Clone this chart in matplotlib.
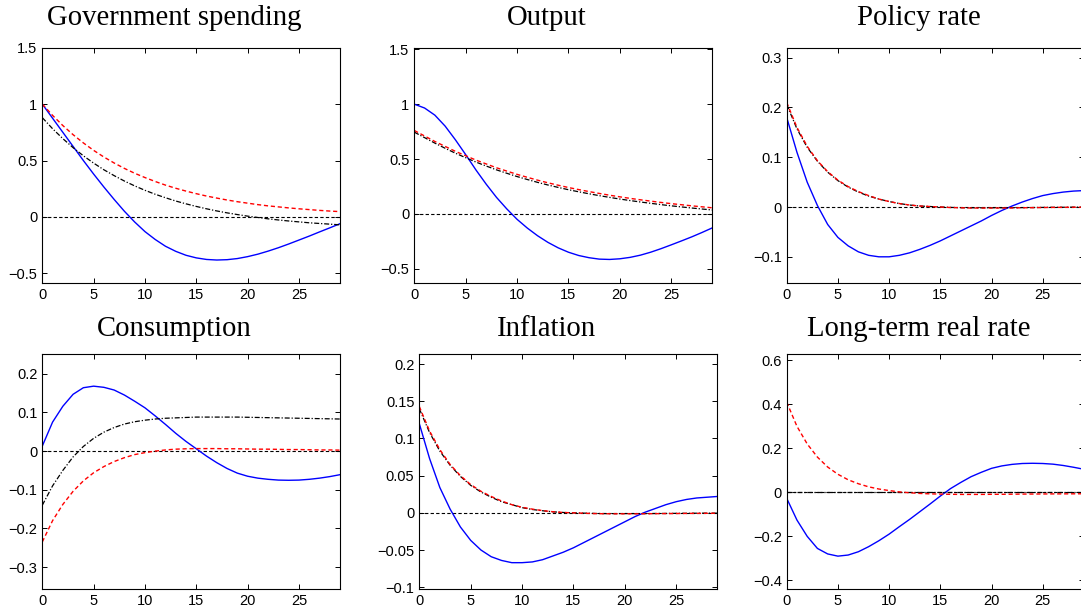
import matplotlib
matplotlib.use("Agg")
import matplotlib.pyplot as plt
from matplotlib.ticker import FuncFormatter
import numpy as np

periods = np.arange(30)

# Government spending
gov_blue = [1.0, 0.875, 0.75, 0.625, 0.50, 0.38, 0.265, 0.155, 0.05, -0.045,
            -0.13, -0.2, -0.26, -0.305, -0.34, -0.363, -0.377, -0.382, -0.379, -0.369,
            -0.352, -0.33, -0.303, -0.273, -0.24, -0.205, -0.17, -0.133, -0.097, -0.06]
gov_red = [1.0, 0.9, 0.81, 0.729, 0.656, 0.59, 0.531, 0.478, 0.43, 0.387,
           0.349, 0.314, 0.282, 0.254, 0.229, 0.206, 0.185, 0.167, 0.15, 0.135,
           0.122, 0.109, 0.098, 0.089, 0.08, 0.072, 0.065, 0.058, 0.052, 0.047]
gov_black = [0.88, 0.782, 0.694, 0.614, 0.542, 0.477, 0.418, 0.366, 0.318, 0.275,
             0.236, 0.201, 0.17, 0.141, 0.116, 0.093, 0.072, 0.053, 0.036, 0.021,
             0.007, -0.005, -0.017, -0.027, -0.036, -0.044, -0.052, -0.058, -0.064, -0.07]

# Output
out_blue = [1.0, 0.965, 0.9, 0.8, 0.675, 0.54, 0.4, 0.27, 0.15, 0.045,
            -0.05, -0.13, -0.2, -0.26, -0.31, -0.35, -0.38, -0.4, -0.413, -0.416,
            -0.41, -0.397, -0.377, -0.35, -0.318, -0.283, -0.247, -0.21, -0.17, -0.128]
out_red = [0.76, 0.71, 0.66, 0.615, 0.57, 0.53, 0.49, 0.455, 0.42, 0.39,
           0.36, 0.333, 0.307, 0.283, 0.261, 0.24, 0.221, 0.203, 0.186, 0.17,
           0.155, 0.141, 0.128, 0.116, 0.104, 0.093, 0.083, 0.073, 0.064, 0.055]
out_black = [0.745, 0.695, 0.645, 0.598, 0.553, 0.512, 0.472, 0.436, 0.401, 0.37,
             0.34, 0.313, 0.287, 0.263, 0.241, 0.22, 0.201, 0.183, 0.166, 0.15,
             0.135, 0.121, 0.108, 0.096, 0.084, 0.073, 0.063, 0.053, 0.044, 0.035]

# Policy rate
pol_blue = [0.18, 0.11, 0.05, 0.003, -0.035, -0.061, -0.078, -0.09, -0.097, -0.1,
            -0.1, -0.097, -0.092, -0.085, -0.077, -0.068, -0.058, -0.048, -0.038, -0.028,
            -0.017, -0.007, 0.002, 0.01, 0.017, 0.023, 0.027, 0.03, 0.032, 0.033]
pol_red = [0.21, 0.16, 0.122, 0.093, 0.071, 0.054, 0.041, 0.031, 0.023, 0.016,
           0.011, 0.007, 0.004, 0.002, 0.001, 0.0, -0.001, -0.0015, -0.002, -0.002,
           -0.002, -0.002, -0.0018, -0.0015, -0.0013, -0.001, -0.0008, -0.0006, -0.0004, -0.0003]
pol_black = [0.206, 0.157, 0.12, 0.092, 0.07, 0.053, 0.04, 0.03, 0.022, 0.016,
             0.011, 0.007, 0.004, 0.002, 0.001, 0.0, -0.0008, -0.0012, -0.0015, -0.0015,
             -0.0015, -0.0015, -0.0013, -0.0012, -0.001, -0.0008, -0.0006, -0.0005, -0.0003, -0.0002]

# Consumption
con_blue = [0.013, 0.075, 0.116, 0.147, 0.164, 0.168, 0.165, 0.158, 0.145, 0.129,
            0.112, 0.091, 0.069, 0.046, 0.025, 0.006, -0.013, -0.03, -0.045, -0.057,
            -0.065, -0.07, -0.073, -0.075, -0.0755, -0.075, -0.073, -0.07, -0.066, -0.061]
con_red = [-0.235, -0.18, -0.138, -0.104, -0.077, -0.056, -0.04, -0.027, -0.017, -0.009,
           -0.004, 0.0, 0.003, 0.005, 0.006, 0.0065, 0.0065, 0.0065, 0.006, 0.006,
           0.0055, 0.005, 0.005, 0.0045, 0.004, 0.004, 0.0035, 0.003, 0.003, 0.0025]
con_black = [-0.14, -0.09, -0.05, -0.015, 0.012, 0.033, 0.049, 0.061, 0.07, 0.076,
             0.08, 0.083, 0.085, 0.086, 0.087, 0.088, 0.088, 0.088, 0.088, 0.088,
             0.0875, 0.087, 0.0865, 0.086, 0.0855, 0.085, 0.0845, 0.084, 0.0835, 0.083]

# Inflation
inf_blue = [0.12, 0.073, 0.034, 0.005, -0.019, -0.037, -0.05, -0.059, -0.064, -0.067,
            -0.067, -0.066, -0.063, -0.058, -0.053, -0.047, -0.04, -0.033, -0.026, -0.019,
            -0.012, -0.005, 0.001, 0.006, 0.011, 0.015, 0.018, 0.02, 0.021, 0.022]
inf_red = [0.143, 0.11, 0.085, 0.065, 0.05, 0.038, 0.029, 0.022, 0.016, 0.011,
           0.0075, 0.005, 0.003, 0.0015, 0.0005, 0.0, -0.0005, -0.001, -0.0012, -0.0013,
           -0.0013, -0.0013, -0.0012, -0.0011, -0.001, -0.0009, -0.0008, -0.0007, -0.0006, -0.0005]
inf_black = [0.14, 0.108, 0.083, 0.064, 0.049, 0.037, 0.028, 0.021, 0.015, 0.011,
             0.007, 0.0045, 0.0028, 0.0014, 0.0005, 0.0, -0.0004, -0.0008, -0.001, -0.001,
             -0.001, -0.001, -0.001, -0.0009, -0.0008, -0.0007, -0.0006, -0.0005, -0.0004, -0.0004]

# Long-term real rate
ltr_blue = [-0.027, -0.126, -0.2, -0.255, -0.28, -0.29, -0.285, -0.27, -0.247, -0.22,
            -0.19, -0.156, -0.123, -0.088, -0.053, -0.017, 0.017, 0.045, 0.071, 0.091,
            0.109, 0.12, 0.127, 0.131, 0.132, 0.131, 0.128, 0.122, 0.114, 0.105]
ltr_red = [0.41, 0.3, 0.22, 0.16, 0.115, 0.082, 0.057, 0.039, 0.025, 0.015,
           0.008, 0.002, -0.002, -0.005, -0.007, -0.008, -0.009, -0.0095, -0.0095, -0.0095,
           -0.009, -0.009, -0.0085, -0.008, -0.0078, -0.0075, -0.0072, -0.007, -0.0068, -0.0065]
ltr_black = [0.001] * 30

titles = ["Government spending", "Output", "Policy rate",
          "Consumption", "Inflation", "Long-term real rate"]
series = [(gov_blue, gov_red, gov_black), (out_blue, out_red, out_black),
          (pol_blue, pol_red, pol_black), (con_blue, con_red, con_black),
          (inf_blue, inf_red, inf_black), (ltr_blue, ltr_red, ltr_black)]
yticks = [[-0.5, 0, 0.5, 1, 1.5], [-0.5, 0, 0.5, 1, 1.5], [-0.1, 0, 0.1, 0.2, 0.3],
          [-0.3, -0.2, -0.1, 0, 0.1, 0.2], [-0.1, -0.05, 0, 0.05, 0.1, 0.15, 0.2],
          [-0.4, -0.2, 0, 0.2, 0.4, 0.6]]
ylims = [(-0.583, 1.5), (-0.628, 1.515), (-0.152, 0.32),
         (-0.356, 0.252), (-0.102, 0.214), (-0.438, 0.63)]

W, H = 1081, 612
# axes boxes in pixels: left, top, width, height
boxes = [(42.3, 47.7, 297.7, 235), (414.3, 47.7, 298, 235), (786.7, 47.7, 297, 235),
         (42.3, 353.7, 297.7, 235), (419.3, 353.7, 298, 235), (786.7, 353.7, 297, 235)]
title_x = [174.5, 546.7, 918.5, 174.5, 546.7, 918.5]
title_base = [25, 25, 25, 336, 336, 336]

fig = plt.figure(figsize=(W / 100, H / 100), dpi=100)

fmt = FuncFormatter(lambda v, p: ("%g" % v).replace("-", "\u2212"))

for i in range(6):
    l, t, w, h = boxes[i]
    ax = fig.add_axes([l / W, 1 - (t + h) / H, w / W, h / H])
    blue, red, black = series[i]
    ax.plot([0, 29], [0, 0], color="black", lw=0.8, dashes=(3, 2))
    ax.plot(periods, blue, color="#0000ff", lw=1.0)
    ax.plot(periods, black, color="black", lw=0.9, dashes=(4, 1.5, 1, 1.5))
    ax.plot(periods, red, color="#ff0000", lw=1.0, dashes=(3, 2))
    ax.set_xlim(0, 29)
    ax.set_ylim(*ylims[i])
    ax.set_xticks([0, 5, 10, 15, 20, 25])
    ax.set_yticks(yticks[i])
    ax.yaxis.set_major_formatter(fmt)
    ax.tick_params(direction="in", length=3.5, width=0.7, top=True, right=True,
                   labelsize=10.5, pad=3.5)
    for lab in ax.get_xticklabels() + ax.get_yticklabels():
        lab.set_fontfamily("Liberation Sans")
    for s in ax.spines.values():
        s.set_linewidth(0.8)
    fig.text(title_x[i] / W, 1 - title_base[i] / H, titles[i], ha="center",
             va="baseline", fontsize=20.7, family="Liberation Serif")

fig.savefig("out.png", dpi=100)
